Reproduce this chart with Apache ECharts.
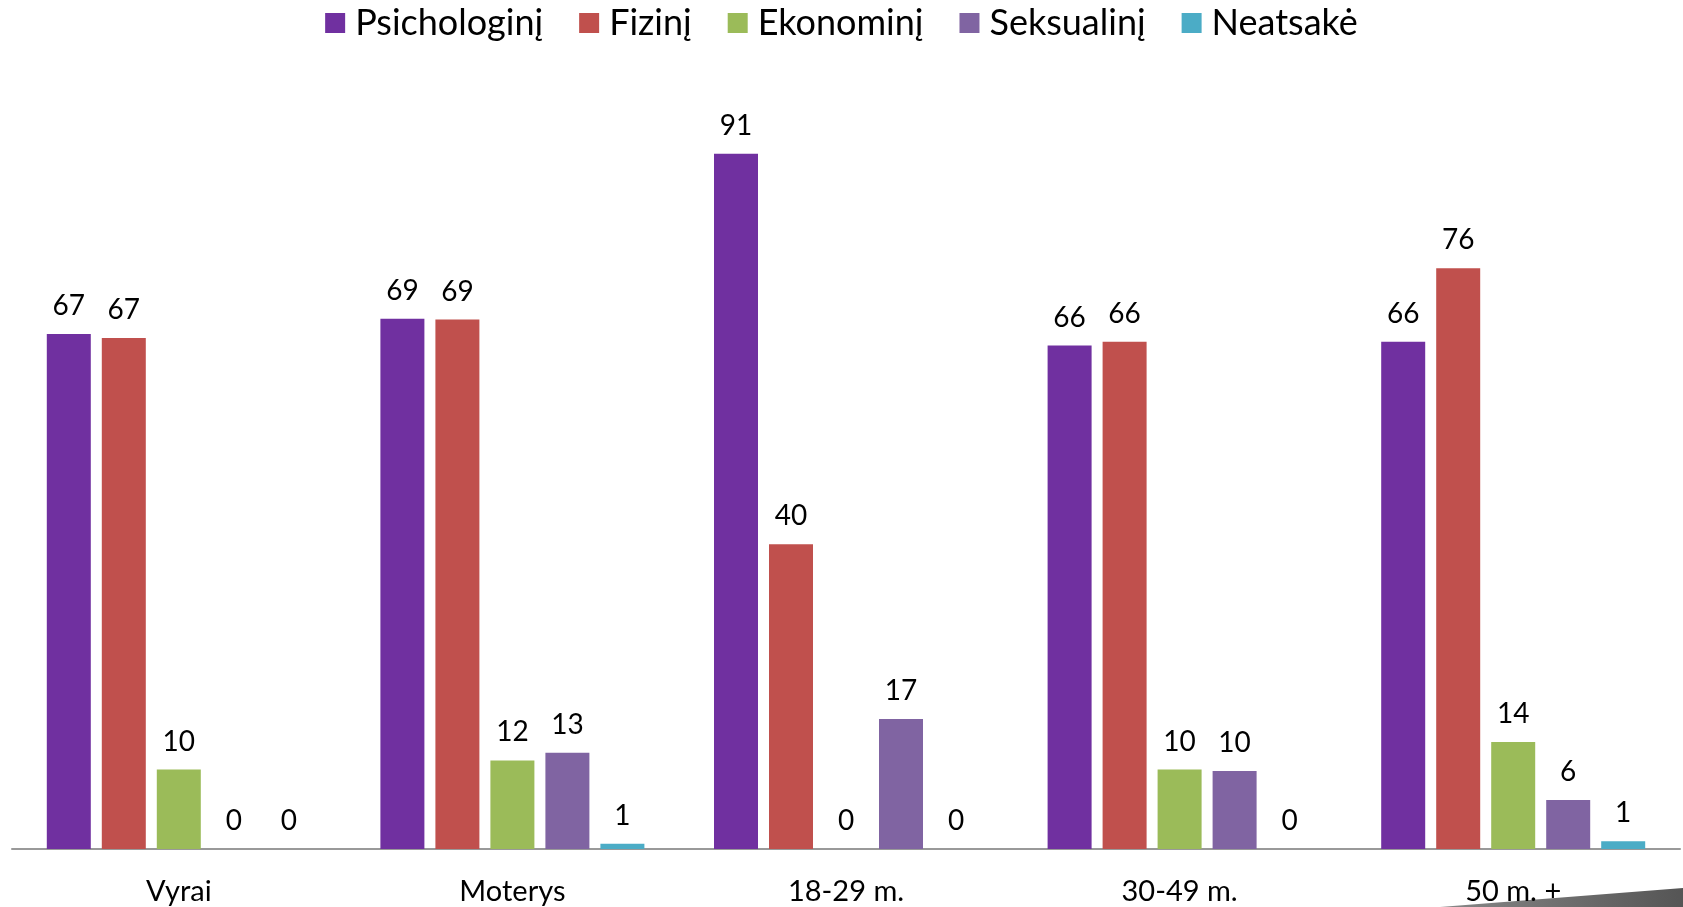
<!DOCTYPE html>
<html>
<head>
<meta charset="utf-8">
<script src="https://cdn.jsdelivr.net/npm/echarts@6/dist/echarts.min.js"></script>
<style>html,body{margin:0;padding:0;background:#fff}#c{width:1683px;height:907px}</style>
</head>
<body>
<div id="c"></div>
<script>
var categories = ['Vyrai', 'Moterys', '18-29 m.', '30-49 m.', '50 m. +'];
var seriesNames = ['Psichologinį', 'Fizinį', 'Ekonominį', 'Seksualinį', 'Neatsakė'];
var psichologini = [67.4, 69.4, 91.0, 65.9, 66.4];
var fizini = [66.9, 69.3, 39.9, 66.4, 76.0];
var ekonomini = [10.4, 11.6, 0, 10.4, 14.0];
var seksualini = [0, 12.6, 17.0, 10.2, 6.4];
var neatsake = [0, 0.7, 0, 0, 1.0];
var colors = ['#7030A0', '#C0504D', '#9BBB59', '#8064A2', '#4BACC6'];

var allData = [psichologini, fizini, ekonomini, seksualini, neatsake];
var font = 'Lato, "Open Sans", sans-serif';
var chart = echarts.init(document.getElementById('c'));
chart.setOption({
  animation: false,
  color: colors,
  legend: {
    top: 0,
    left: 'center',
    itemWidth: 20,
    itemHeight: 20,
    itemGap: 36,
    icon: 'rect',
    textStyle: {fontFamily: font, fontSize: 36, color: '#000', padding: [0, 0, 0, 5]},
    data: seriesNames
  },
  grid: {left: 12, right: 3, top: 85, bottom: 58},
  xAxis: {
    type: 'category',
    data: categories,
    axisLine: {lineStyle: {color: '#999', width: 2}},
    axisTick: {show: false},
    axisLabel: {fontFamily: font, fontSize: 29, color: '#000', margin: 28}
  },
  yAxis: {type: 'value', min: 0, max: 100, show: false, splitLine: {show: false}},
  graphic: {elements: [{
    type: 'polygon', z: -10,
    shape: {points: [[1440, 907], [1683, 888], [1683, 907]]},
    style: {fill: new echarts.graphic.LinearGradient(0, 0, 1, 0, [{offset: 0, color: '#888'}, {offset: 1, color: '#555'}])}
  }]},
  series: allData.map(function (d, i) {
    return {
      name: seriesNames[i],
      type: 'bar',
      data: d,
      barWidth: 44,
      barGap: '25%',
      itemStyle: {color: colors[i]},
      label: {
        show: true,
        position: 'top',
        distance: 14,
        fontFamily: font,
        fontSize: 28,
        color: '#000',
        formatter: function (p) { return Math.round(p.value); }
      }
    };
  })
});
</script>
</body>
</html>
